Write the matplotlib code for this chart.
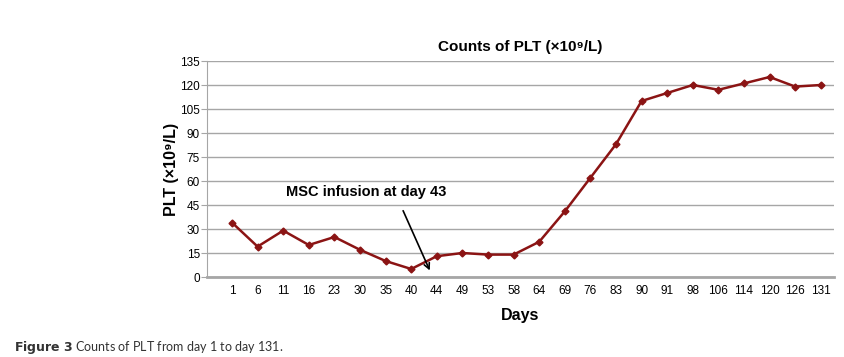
import matplotlib
matplotlib.use("Agg")
import matplotlib.pyplot as plt
import numpy as np

days = ["1", "6", "11", "16", "23", "30", "35", "40", "44", "49", "53", "58",
        "64", "69", "76", "83", "90", "91", "98", "106", "114", "120", "126", "131"]
plt_counts = [34, 19, 29, 20, 25, 17, 10, 5, 13, 15, 14, 14,
              22, 41, 62, 83, 110, 115, 120, 117, 121, 125, 119, 120]
yticks = [0, 15, 30, 45, 60, 75, 90, 105, 120, 135]

plt.rcParams['font.family'] = ['Liberation Sans', 'DejaVu Sans']

fig = plt.figure(figsize=(8.44, 3.57), dpi=100)
ax = fig.add_axes([207/844, 1-277/357, (834-207)/844, (277-61)/357])

x = np.arange(len(days))
ax.plot(x, plt_counts, color='#8B1414', lw=1.8, marker='D', ms=3.5, zorder=3)

ax.set_ylim(0, 135)
ax.set_yticks(yticks)
sp = 25.6
ax.set_xlim(-(232-207)/sp, (834-232)/sp)
ax.set_xticks(x)
ax.set_xticklabels(days)
ax.yaxis.grid(True, color='#a6a6a6', lw=1.0)
ax.set_axisbelow(True)
for s in ['top', 'right']:
    ax.spines[s].set_visible(False)
ax.spines['left'].set_color('#a6a6a6')
ax.spines['bottom'].set_color('#a6a6a6')
ax.spines['bottom'].set_linewidth(2)
ax.tick_params(axis='y', length=4, color='#a6a6a6', labelsize=8.5, pad=1)
ax.tick_params(axis='x', length=0, labelsize=8.5, pad=6)

ax.set_title("Counts of PLT (\u00d710\u2079/L)", fontsize=11, fontweight='bold', pad=7)
ax.set_ylabel("PLT (\u00d710\u2079/L)", fontsize=11.5, fontweight='bold', labelpad=1)
ax.set_xlabel("Days", fontsize=11.5, fontweight='bold', labelpad=8)

ax.annotate("", xy=(7.77, 2.5), xytext=(6.64, 43),
            arrowprops=dict(arrowstyle='->', color='black', lw=1.2))
ax.text(5.23, 53, "MSC infusion at day 43", fontsize=10.5, fontweight='bold',
        ha='center', va='center')

fig.text(14/844, 1-347/357, r"$\bf{Figure\ 3}$ Counts of PLT from day 1 to day 131.",
         fontsize=9, color='#333333', ha='left', va='center', family='Lato')

fig.savefig("out.png", dpi=100)
